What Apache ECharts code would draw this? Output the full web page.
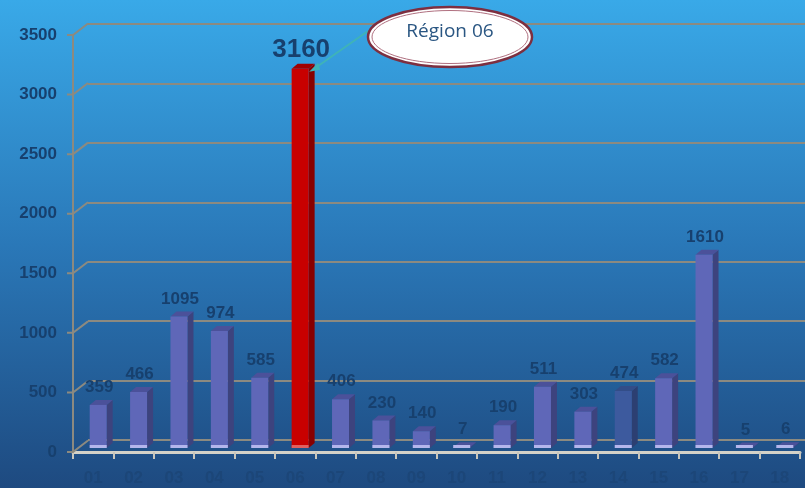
<!DOCTYPE html>
<html><head><meta charset="utf-8">
<script src="https://cdn.jsdelivr.net/npm/echarts@6/dist/echarts.min.js"></script>
<style>html,body{margin:0;padding:0;}#c{width:805px;height:488px;}</style>
</head><body><div id="c"></div>
<script>
var categories = ['01','02','03','04','05','06','07','08','09','10','11','12','13','14','15','16','17','18'];
var values = [359,466,1095,974,585,3160,406,230,140,7,190,511,303,474,582,1610,5,6];
var yTicks = [0,500,1000,1500,2000,2500,3000,3500];
var highlightIndex = 5;
var altIndex = 13;
var calloutText = 'Région 06';

var chart = echarts.init(document.getElementById('c'));
var labelColor = '#17406e';
var font = 'Liberation Sans';

function barItem(params, api) {
  var idx = api.value(0), v = api.value(1);
  var top = api.coord([idx, v]);
  var base = api.coord([idx, 0]);
  var x = top[0], ty = top[1], by = base[1];
  var hw = 8.5, dx = 6, dy = 5;
  var front = '#5f67b8', side = '#3d437e', topc = '#4b519a', foot = '#b4b6ec';
  if (idx === altIndex) { front = '#3d5a9e'; side = '#2c3f72'; topc = '#334d88'; }
  if (idx === highlightIndex) { front = '#c80000'; side = '#880000'; topc = '#a00000'; foot = '#e06060'; }
  var big = idx === highlightIndex;
  return {
    type: 'group',
    children: [
      {type:'polygon', shape:{points:[[x+hw,ty],[x+hw+dx,ty-dy],[x+hw+dx,by-dy],[x+hw,by]]}, style:{fill:side}},
      {type:'polygon', shape:{points:[[x-hw,ty],[x-hw+dx,ty-dy],[x+hw+dx,ty-dy],[x+hw,ty]]}, style:{fill:topc}},
      {type:'rect', shape:{x:x-hw, y:ty, width:hw*2, height:by-ty}, style:{fill:front}},
      {type:'rect', shape:{x:x-hw, y:by-3, width:hw*2, height:3}, style:{fill:foot}},
      {type:'text', style:{text:String(v), x:x+1, y:ty-(big?6:9), textAlign:'center', textVerticalAlign:'bottom',
        fill:labelColor, font:'bold '+(big?26:17)+'px "'+font+'"'}}
    ]
  };
}

function connItem(params, api) {
  var p = api.coord([0, api.value(0)]);
  var x = params.coordSys.x, y = p[1];
  return {type:'polyline', shape:{points:[[x-6,y],[x,y],[x+15,y-11.5]]}, style:{stroke:'#8c8a80', lineWidth:2, fill:null}};
}

var option = {
  backgroundColor: {type:'linear', x:0, y:0, x2:0, y2:1, colorStops:[
    {offset:0, color:'#39a9e8'}, {offset:0.5, color:'#2a78b8'}, {offset:1, color:'#1e4a80'}]},
  animation: false,
  grid: [
    {left:88, right:0, top:24, bottom:48},
    {left:78, right:0, top:28, bottom:40},
    {left:73, right:5, top:35, bottom:36}
  ],
  xAxis: [
    {gridIndex:0, type:'category', data:categories, show:false},
    {gridIndex:1, type:'category', data:categories, show:false},
    {gridIndex:2, type:'category', data:categories,
      axisLine:{lineStyle:{color:'#d4d2c8', width:3}},
      axisTick:{show:true, length:7, lineStyle:{color:'#c8c6bc', width:2}},
      axisLabel:{color:'#1c4678', fontFamily:font, fontWeight:'bold', fontSize:17, margin:18}}
  ],
  yAxis: [
    {gridIndex:0, type:'value', min:0, max:3500, interval:500, axisLabel:{show:false}, axisLine:{show:false}, axisTick:{show:false},
      splitLine:{lineStyle:{color:'#8c8a80', width:2}}},
    {gridIndex:1, type:'value', min:0, max:3500, interval:500, show:false, splitLine:{show:false}},
    {gridIndex:2, type:'value', min:0, max:3500, interval:500,
      axisLine:{show:true, lineStyle:{color:'#8c8a80', width:2}},
      axisTick:{show:false},
      splitLine:{show:false},
      axisLabel:{color:labelColor, fontFamily:font, fontWeight:'bold', fontSize:17, margin:16,
        formatter:function(v){return String(v);}}}
  ],
  series: [
    {type:'custom', xAxisIndex:2, yAxisIndex:2, data:yTicks.map(function(t){return [t];}), renderItem:connItem, z:3, silent:true},
    {type:'custom', xAxisIndex:1, yAxisIndex:1, data:values.map(function(v,i){return [i,v];}), renderItem:barItem, z:5,
      encode:{x:0,y:1}}
  ]
};
chart.setOption(option);

var tip = chart.convertToPixel({xAxisIndex:1, yAxisIndex:1}, [highlightIndex, values[highlightIndex]]);
var cx = 450, cy = 37;
chart.setOption({graphic:[
  {type:'line', shape:{x1:368, y1:31, x2:tip[0]+14, y2:tip[1]}, style:{stroke:'#3fb3b8', lineWidth:2}, z:20},
  {type:'polygon', shape:{points:[[tip[0]+9,tip[1]+3],[tip[0]+18,tip[1]-6],[tip[0]+20,tip[1]+1]]}, style:{fill:'#3fb3b8'}, z:20},
  {type:'ellipse', shape:{cx:cx, cy:cy, rx:82, ry:30}, style:{fill:'#ffffff', stroke:'#7d2f40', lineWidth:2.5}, z:21},
  {type:'ellipse', shape:{cx:cx, cy:cy, rx:78, ry:26.5}, style:{fill:'#ffffff', stroke:'#b07080', lineWidth:1}, z:21},
  {type:'text', style:{text:calloutText, x:cx, y:32, textAlign:'center', textVerticalAlign:'middle', fill:'#2a5682', font:'19px "Open Sans"'}, z:22}
]});
</script></body></html>
